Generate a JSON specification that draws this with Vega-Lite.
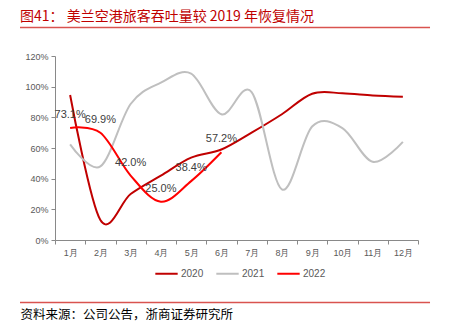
{
  "$schema": "https://vega.github.io/schema/vega-lite/v6.json",
  "autosize": {"type": "none"},
  "padding": {"left": 55, "top": 56, "right": 32, "bottom": 86},
  "width": 363,
  "height": 184,
  "background": "white",
  "config": {
    "view": {"stroke": null},
    "font": "Liberation Sans",
    "axisY": {"labelOverlap": false}
  },
  "title": {"text": "图41： 美兰空港旅客吞吐量较 2019 年恢复情况", "anchor": "start", "frame": "group", "dx": -35, "offset": 3, "fontSize": 14, "color": "#C00000", "font": "Noto Sans CJK SC", "fontWeight": "normal"},
  "data": {"values": [
    {"month": "1月", "series": "2020", "value": 0.946},
    {"month": "2月", "series": "2020", "value": 0.13},
    {"month": "3月", "series": "2020", "value": 0.30},
    {"month": "4月", "series": "2020", "value": 0.42},
    {"month": "5月", "series": "2020", "value": 0.537},
    {"month": "6月", "series": "2020", "value": 0.59},
    {"month": "7月", "series": "2020", "value": 0.70},
    {"month": "8月", "series": "2020", "value": 0.82},
    {"month": "9月", "series": "2020", "value": 0.954},
    {"month": "10月", "series": "2020", "value": 0.957},
    {"month": "11月", "series": "2020", "value": 0.943},
    {"month": "12月", "series": "2020", "value": 0.935},
    {"month": "1月", "series": "2021", "value": 0.624},
    {"month": "2月", "series": "2021", "value": 0.48},
    {"month": "3月", "series": "2021", "value": 0.887},
    {"month": "4月", "series": "2021", "value": 1.026},
    {"month": "5月", "series": "2021", "value": 1.085},
    {"month": "6月", "series": "2021", "value": 0.82},
    {"month": "7月", "series": "2021", "value": 0.965},
    {"month": "8月", "series": "2021", "value": 0.33},
    {"month": "9月", "series": "2021", "value": 0.74},
    {"month": "10月", "series": "2021", "value": 0.73},
    {"month": "11月", "series": "2021", "value": 0.51},
    {"month": "12月", "series": "2021", "value": 0.64},
    {"month": "1月", "series": "2022", "value": 0.731},
    {"month": "2月", "series": "2022", "value": 0.699},
    {"month": "3月", "series": "2022", "value": 0.42},
    {"month": "4月", "series": "2022", "value": 0.25},
    {"month": "5月", "series": "2022", "value": 0.384},
    {"month": "6月", "series": "2022", "value": 0.572}
  ]},
  "resolve": {"scale": {"x": "independent"}},
  "layer": [
    {
      "mark": {"type": "line", "interpolate": "cardinal", "strokeWidth": 2},
      "encoding": {
        "x": {
          "field": "month", "type": "ordinal", "sort": null, "bandPosition": 0.5,
          "scale": {"type": "band", "paddingInner": 0, "paddingOuter": 0},
          "axis": {"title": "资料来源：公司公告，浙商证券研究所", "titleFont": "Noto Sans CJK SC", "titleFontSize": 12.5, "titleFontWeight": "normal", "titleColor": "#000000", "titleAnchor": "start", "titleAlign": "left", "titleBaseline": "middle", "titleX": -35, "titleY": 74.5, "labelAngle": 0, "tickBand": "extent", "domainColor": "#898989", "tickColor": "#898989", "tickSize": 4, "labelColor": "#595959", "labelFontSize": 9, "labelPadding": 4}
        },
        "y": {
          "field": "value", "type": "quantitative",
          "scale": {"domain": [0, 1.2], "nice": false},
          "axis": {"title": null, "format": ".0%", "values": [0, 0.2, 0.4, 0.6, 0.8, 1.0, 1.2], "tickCount": 7, "labelOverlap": false, "grid": false, "domainColor": "#898989", "tickColor": "#898989", "tickSize": 4, "labelColor": "#595959", "labelFontSize": 9, "labelPadding": 3}
        },
        "color": {
          "field": "series", "type": "nominal",
          "scale": {"domain": ["2020", "2021", "2022"], "range": ["#C00000", "#BFBFBF", "#FF0000"]},
          "legend": {"title": null, "orient": "none", "legendX": 99, "legendY": 205, "direction": "horizontal", "symbolType": "stroke", "symbolStrokeWidth": 2, "symbolSize": 500, "labelFontSize": 10, "labelColor": "#595959", "columnPadding": 8, "labelOffset": 2}
        }
      }
    },
    {
      "transform": [{"filter": "datum.series === '2022'"}],
      "mark": {"type": "text", "dy": -13, "fontSize": 11, "color": "#404040"},
      "encoding": {
        "x": {"field": "month", "type": "ordinal", "sort": null, "bandPosition": 0.5, "scale": {"type": "band", "paddingInner": 0, "paddingOuter": 0, "domain": ["1月", "2月", "3月", "4月", "5月", "6月", "7月", "8月", "9月", "10月", "11月", "12月"]}, "axis": null},
        "y": {
          "field": "value", "type": "quantitative",
          "scale": {"domain": [0, 1.2], "nice": false},
          "axis": {"title": null, "format": ".0%", "values": [0, 0.2, 0.4, 0.6, 0.8, 1.0, 1.2], "tickCount": 7, "labelOverlap": false, "grid": false, "domainColor": "#898989", "tickColor": "#898989", "tickSize": 4, "labelColor": "#595959", "labelFontSize": 9, "labelPadding": 3}
        },
        "text": {"field": "value", "type": "quantitative", "format": ".1%"}
      }
    },
    {
      "data": {"values": [{"line": "header", "pos": 1.386}, {"line": "footer", "pos": -0.4076}]},
      "mark": {"type": "rule", "color": "#D9534F", "strokeWidth": 1.5, "clip": false},
      "encoding": {
        "x": {"datum": -0.0964, "type": "quantitative", "scale": {"domain": [0, 1], "nice": false, "zero": false}, "axis": null},
        "x2": {"datum": 1.0331},
        "y": {
          "field": "pos", "type": "quantitative",
          "scale": {"domain": [0, 1.2], "nice": false},
          "axis": {"title": null, "format": ".0%", "values": [0, 0.2, 0.4, 0.6, 0.8, 1.0, 1.2], "tickCount": 7, "labelOverlap": false, "grid": false, "domainColor": "#898989", "tickColor": "#898989", "tickSize": 4, "labelColor": "#595959", "labelFontSize": 9, "labelPadding": 3}
        }
      }
    }
  ]
}
